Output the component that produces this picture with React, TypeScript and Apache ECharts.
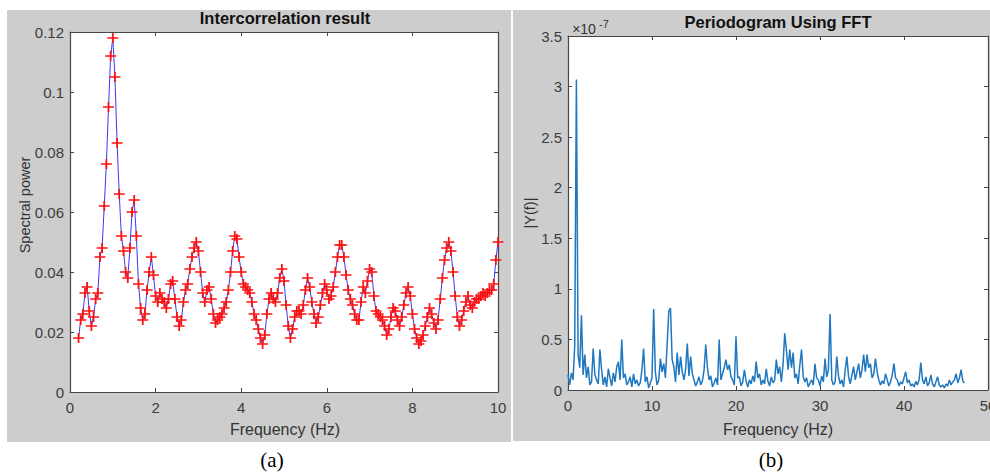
import React, { useEffect, useRef } from "react";
import * as echarts from "echarts";

// ---- Panel (a): Intercorrelation result ----
const leftFreqStart = 0.2;
const leftFreqStep = 0.05;
const leftValues = [
  0.018, 0.024, 0.026, 0.033, 0.035, 0.027, 0.022, 0.025, 0.031, 0.033,
  0.045, 0.048, 0.062, 0.076, 0.095, 0.112, 0.118, 0.105, 0.083, 0.066,
  0.052, 0.047, 0.040, 0.038, 0.048, 0.060, 0.064, 0.052, 0.036, 0.028,
  0.024, 0.026, 0.034, 0.040, 0.045, 0.039, 0.032, 0.030, 0.033, 0.031,
  0.030, 0.028, 0.031, 0.036, 0.037, 0.031, 0.025, 0.022, 0.024, 0.030,
  0.034, 0.036, 0.041, 0.045, 0.048, 0.050, 0.047, 0.040, 0.033, 0.030,
  0.034, 0.035, 0.031, 0.026, 0.023, 0.024, 0.025, 0.026, 0.028, 0.030,
  0.034, 0.040, 0.047, 0.052, 0.051, 0.045, 0.040, 0.036, 0.035, 0.034,
  0.033, 0.030, 0.026, 0.024, 0.021, 0.018, 0.016, 0.019, 0.026, 0.031,
  0.033, 0.031, 0.030, 0.033, 0.038, 0.041, 0.037, 0.029, 0.022, 0.018,
  0.021, 0.025, 0.027, 0.027, 0.026, 0.029, 0.034, 0.038, 0.035, 0.030,
  0.026, 0.023, 0.025, 0.029, 0.033, 0.036, 0.034, 0.031, 0.032, 0.035,
  0.040, 0.045, 0.049, 0.049, 0.045, 0.039, 0.034, 0.031, 0.029, 0.026,
  0.024, 0.024, 0.030, 0.035, 0.033, 0.037, 0.041, 0.040, 0.032, 0.027,
  0.026, 0.025, 0.024, 0.022, 0.019, 0.021, 0.025, 0.028, 0.027, 0.024,
  0.022, 0.025, 0.029, 0.033, 0.035, 0.032, 0.026, 0.021, 0.018, 0.016,
  0.017, 0.019, 0.022, 0.025, 0.028, 0.026, 0.023, 0.021, 0.024, 0.031,
  0.038, 0.044, 0.048, 0.050, 0.047, 0.040, 0.032, 0.025, 0.022, 0.024,
  0.027, 0.030, 0.032, 0.029, 0.028, 0.030, 0.031, 0.031, 0.032, 0.033,
  0.032, 0.033, 0.034, 0.034, 0.036, 0.044, 0.050,
];
const leftXTicks = { min: 0, max: 10, interval: 2 };
const leftYTicks = { min: 0, max: 0.12, interval: 0.02 };

// ---- Panel (b): Periodogram Using FFT (values in units of 1e-7) ----
const rightFreqStep = 0.2;
const rightValuesE7 = [
  0.15, 0.05, 0.17, 0.10, 0.44, 3.07, 0.35, 0.22, 0.74, 0.15,
  0.35, 0.12, 0.23, 0.05, 0.08, 0.41, 0.15, 0.10, 0.06, 0.40,
  0.20, 0.05, 0.13, 0.03, 0.21, 0.12, 0.04, 0.17, 0.08, 0.23,
  0.28, 0.10, 0.50, 0.12, 0.16, 0.05, 0.08, 0.13, 0.03, 0.16,
  0.06, 0.10, 0.04, 0.07, 0.20, 0.41, 0.08, 0.13, 0.02, 0.07,
  0.12, 0.80, 0.18, 0.05, 0.10, 0.31, 0.18, 0.26, 0.12, 0.45,
  0.78, 0.81, 0.30, 0.23, 0.08, 0.37, 0.15, 0.33, 0.18, 0.10,
  0.20, 0.46, 0.14, 0.33, 0.16, 0.10, 0.04, 0.08, 0.13, 0.05,
  0.09, 0.20, 0.45, 0.22, 0.10, 0.14, 0.03, 0.07, 0.12, 0.05,
  0.50, 0.10, 0.16, 0.22, 0.30, 0.20, 0.25, 0.13, 0.10, 0.05,
  0.53, 0.12, 0.13, 0.04, 0.08, 0.20, 0.09, 0.03, 0.10, 0.06,
  0.14, 0.08, 0.28, 0.12, 0.16, 0.05, 0.10, 0.06, 0.21, 0.09,
  0.04, 0.13, 0.07, 0.10, 0.30, 0.16, 0.23, 0.08, 0.25, 0.56,
  0.40, 0.20, 0.40, 0.22, 0.37, 0.12, 0.16, 0.06, 0.25, 0.40,
  0.13, 0.08, 0.12, 0.03, 0.07, 0.10, 0.05, 0.26, 0.12, 0.10,
  0.04, 0.14, 0.08, 0.31, 0.13, 0.20, 0.75, 0.10, 0.05, 0.08,
  0.33, 0.14, 0.06, 0.10, 0.03, 0.20, 0.33, 0.13, 0.06, 0.15,
  0.23, 0.10, 0.18, 0.26, 0.12, 0.20, 0.35, 0.18, 0.35, 0.22,
  0.26, 0.12, 0.16, 0.31, 0.18, 0.10, 0.05, 0.09, 0.06, 0.16,
  0.10, 0.04, 0.08, 0.15, 0.26, 0.12, 0.10, 0.04, 0.08, 0.06,
  0.12, 0.18, 0.07, 0.10, 0.04, 0.06, 0.03, 0.085, 0.05, 0.10,
  0.27, 0.10, 0.06, 0.13, 0.04, 0.07, 0.15, 0.06, 0.03, 0.08,
  0.13, 0.05, 0.03, 0.05, 0.02, 0.06, 0.04, 0.10, 0.05, 0.08,
  0.10, 0.16, 0.07, 0.12, 0.20, 0.09, 0.07,
];
const rightXTicks = { min: 0, max: 50, interval: 10 };
const rightYTicks = { min: 0, max: 3.5, interval: 0.5 };

const SANS = '"Liberation Sans", Arial, sans-serif';
const SERIF = '"Liberation Serif", "Times New Roman", serif';
const AXIS_COLOR = "#474747";
const LABEL_COLOR = "#3c3c3c";
const PANEL_GREY = "#cdcdcd";
const PLUS = "path://M0,4.15H10V5.85H0Z M4.2,0H5.8V10H4.2Z";

function axisX(gridIndex: number, t: any, position: "bottom" | "top", labels: boolean) {
  return {
    type: "value",
    gridIndex,
    position,
    min: t.min,
    max: t.max,
    interval: t.interval,
    axisLine: { show: true, onZero: false, lineStyle: { color: AXIS_COLOR, width: 1.2 } },
    axisTick: { show: true, inside: true, length: 4, lineStyle: { color: AXIS_COLOR } },
    axisLabel: { show: labels, color: LABEL_COLOR, fontSize: 15, fontFamily: SANS, margin: 8 },
    splitLine: { show: false },
  };
}
function axisY(gridIndex: number, t: any, position: "left" | "right", labels: boolean) {
  return {
    type: "value",
    gridIndex,
    position,
    min: t.min,
    max: t.max,
    interval: t.interval,
    axisLine: { show: true, onZero: false, lineStyle: { color: AXIS_COLOR, width: 1.2 } },
    axisTick: { show: true, inside: true, length: 4, lineStyle: { color: AXIS_COLOR } },
    axisLabel: { show: labels, color: LABEL_COLOR, fontSize: 15, fontFamily: SANS, margin: 6 },
    splitLine: { show: false },
  };
}

export default function App() {
  const ref = useRef<HTMLDivElement>(null);
  useEffect(() => {
    if (!ref.current) return;
    const chart = echarts.init(ref.current, undefined, { renderer: "svg" });
    const leftData = leftValues.map((v, i) => [+(leftFreqStart + i * leftFreqStep).toFixed(3), v]);
    const rightData = rightValuesE7.map((v, i) => [+(i * rightFreqStep).toFixed(2), v]);
    const txt = (text: string, x: number, y: number, font: string, extra: any = {}) => ({
      type: "text",
      z: 100,
      x,
      y,
      ...extra,
      style: { text, x: 0, y: 0, font, fill: "#1e1e1e", textAlign: "center", textVerticalAlign: "middle", ...(extra.style || {}) },
    });
    chart.setOption({
      animation: false,
      backgroundColor: "#ffffff",
      grid: [
        { left: 70, top: 32, width: 428, height: 360, show: true, backgroundColor: "#ffffff", borderWidth: 0, containLabel: false, outerBoundsMode: "none" },
        { left: 568, top: 36, width: 420, height: 354, show: true, backgroundColor: "#ffffff", borderWidth: 0, containLabel: false, outerBoundsMode: "none" },
      ],
      xAxis: [
        axisX(0, leftXTicks, "bottom", true),
        axisX(0, leftXTicks, "top", false),
        axisX(1, rightXTicks, "bottom", true),
        axisX(1, rightXTicks, "top", false),
      ],
      yAxis: [
        axisY(0, leftYTicks, "left", true),
        axisY(0, leftYTicks, "right", false),
        axisY(1, rightYTicks, "left", true),
        axisY(1, rightYTicks, "right", false),
      ],
      series: [
        {
          type: "line",
          xAxisIndex: 0,
          yAxisIndex: 0,
          data: leftData,
          symbol: PLUS,
          symbolSize: [11, 10],
          showSymbol: true,
          lineStyle: { color: "#3b3bf0", width: 1 },
          itemStyle: { color: "#ff1010" },
          z: 5,
        },
        {
          type: "line",
          xAxisIndex: 2,
          yAxisIndex: 2,
          data: rightData,
          symbol: "none",
          lineStyle: { color: "#1f78c0", width: 1.5 },
          z: 5,
        },
      ],
      graphic: [
        { type: "rect", z: -100, shape: { x: 7, y: 10, width: 504, height: 432 }, style: { fill: PANEL_GREY } },
        { type: "rect", z: -100, shape: { x: 513, y: 10, width: 477, height: 431 }, style: { fill: PANEL_GREY } },
        txt("Intercorrelation result", 285, 18, `bold 16.5px ${SANS}`, { style: { fill: "#111" } }),
        txt("Periodogram Using FFT", 778, 22, `bold 16.5px ${SANS}`, { style: { fill: "#111" } }),
        txt("Spectral power", 25, 205, `14.5px ${SANS}`, { rotation: Math.PI / 2, style: { fill: "#333" } }),
        txt("|Y(f)|", 530, 213, `14.5px ${SANS}`, { rotation: Math.PI / 2, style: { fill: "#333" } }),
        txt("Frequency (Hz)", 285, 429, `16px ${SANS}`, { style: { fill: "#333" } }),
        txt("Frequency (Hz)", 778, 429, `16px ${SANS}`, { style: { fill: "#333" } }),
        txt("×10", 584, 29, `14px ${SANS}`, { style: { fill: "#333" } }),
        txt("-7", 604, 24, `11px ${SANS}`, { style: { fill: "#333" } }),
        txt("(a)", 272, 460, `21px ${SERIF}`, { style: { fill: "#000" } }),
        txt("(b)", 771, 460, `21px ${SERIF}`, { style: { fill: "#000" } }),
      ],
    });
    return () => chart.dispose();
  }, []);
  return (
    <div
      ref={ref}
      style={{ position: "fixed", left: 0, top: 0, width: 990, height: 472, background: "#fff" }}
    />
  );
}
